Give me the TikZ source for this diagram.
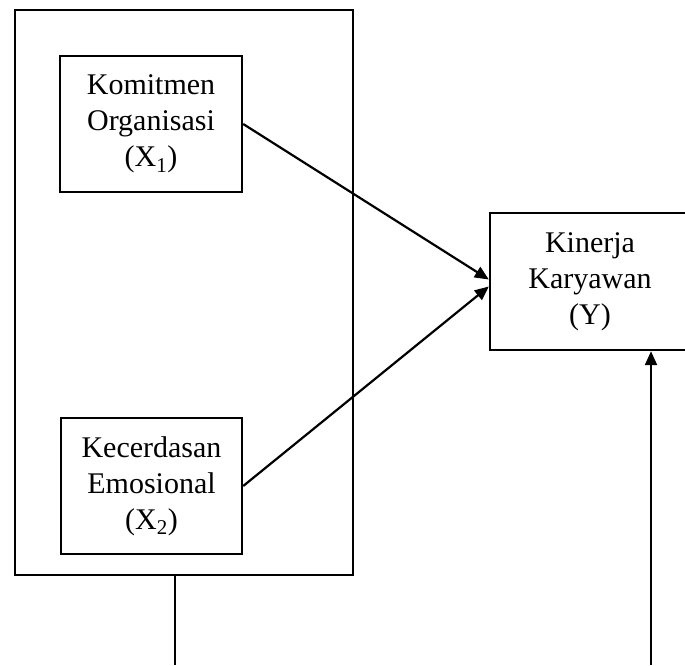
\documentclass[tikz,border=0pt]{standalone}
\usepackage{fontspec}
\setmainfont{Liberation Serif}
\usetikzlibrary{arrows.meta,calc}
\tikzset{
  box/.style={draw, line width=2.4pt, rectangle, align=center, inner sep=0pt,
    font=\fontsize{30}{36}\selectfont},
  conn/.style={line width=2.2pt},
  arr/.style={conn, -{Triangle[length=14pt,width=12pt]}}
}
\begin{document}
\begin{tikzpicture}[x=1pt,y=-1pt]
\useasboundingbox (0,0) rectangle (685,665);
\clip (0,0) rectangle (685,665);
\node[box, minimum width=338pt, minimum height=565pt] (outer) at (184,292.5) {};
\node[box, minimum width=182pt, minimum height=136pt] (k1) at (151,124) {Komitmen\\Organisasi\\(X\textsubscript{1})};
\node[box, minimum width=181pt, minimum height=136pt] (k2) at (151.5,486) {Kecerdasan\\Emosional\\(X\textsubscript{2})};
\node[box, minimum width=200pt, minimum height=137pt] (ky) at (590,281.5) {Kinerja\\Karyawan\\(Y)};
\draw[arr] (k1.east) -- ($(ky.west)+(0,-2)$);
\draw[arr] (k2.east) -- ($(ky.west)+(0,5)$);
\coordinate (b1) at (175,665);
\coordinate (b2) at (651,665);
\draw[conn] (b1) -- (b1 |- outer.south);
\draw[arr] (b2) -- (b2 |- ky.south);
\end{tikzpicture}
\end{document}
